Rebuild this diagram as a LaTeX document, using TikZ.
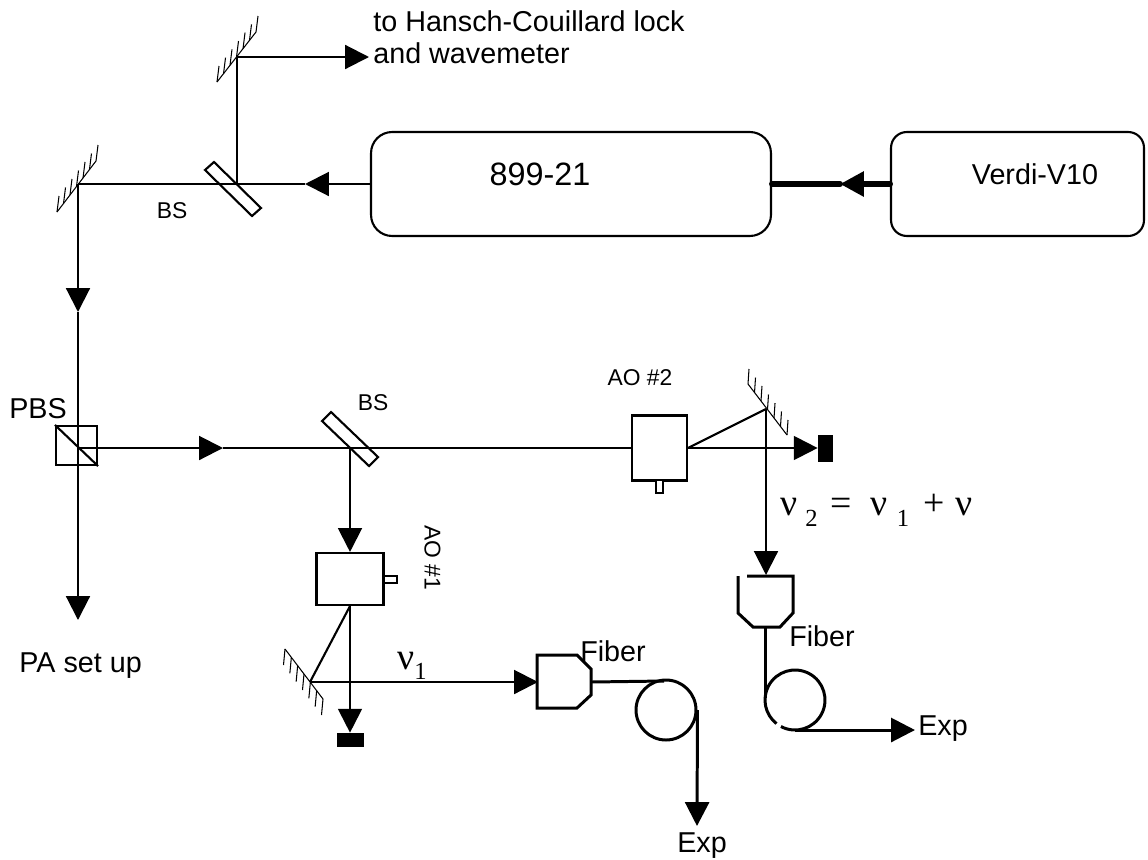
\documentclass[tikz,border=0pt]{standalone}
\usepackage{fontspec}
\setmainfont{Liberation Sans}
\newfontfamily\greekfont{Liberation Serif}
\newcommand{\subnum}[2]{\raisebox{#1}{\fontsize{14}{16}\selectfont #2}}
\usetikzlibrary{arrows.meta,calc}
\tikzset{
    ray/.style={line width=1.2pt},
    tip/.style={-{Triangle[length=13.6pt,width=13.6pt]}},
    beam/.style={ray,tip},
    fibre/.style={line width=1.7pt},
    pump/.style={line width=3.4pt,line cap=round},
    part/.style={draw,line width=1.2pt,inner sep=0pt,fill=white},
    laserbox/.style={draw,line width=1.2pt,inner sep=0pt,minimum height=2.08cm},
    dump/.style={fill=black,inner sep=0pt},
    lab/.style={font=\fontsize{16.35}{19}\selectfont,inner sep=0pt},
    smalllab/.style={font=\fontsize{13}{15}\selectfont,inner sep=0pt},
    nulab/.style={font=\fontsize{21.5}{25}\selectfont\greekfont,inner sep=0pt,anchor=base west},
}
\begin{document}
\begin{tikzpicture}[x=0.02cm,y=-0.02cm]
    \useasboundingbox (0,0) rectangle (1148,859);

    % Mirrors
    \coordinate (M1a) at (217,82);
    \coordinate (M1b) at (256,32);
    \coordinate (M2a) at (57,212);
    \coordinate (M2b) at (96,161);
    \coordinate (M3a) at (748,384);
    \coordinate (M3b) at (787,435);
    \coordinate (M4a) at (285,649);
    \coordinate (M4b) at (323,699);
    \foreach \a/\b/\dx/\dy in {M1a/M1b/2/-16,M2a/M2b/2/-16,M3a/M3b/1/-15,M4a/M4b/-1.5/16} {
            \draw[line width=0.6pt] (\a) -- (\b);
            \foreach \t in {0,0.167,0.333,0.5,0.667,0.833,1} {
                    \draw[line width=0.6pt] ($(\a)!\t!(\b)$) -- ++(\dx,\dy);
                }
        }
    \coordinate (M1) at (237,57);
    \coordinate (M2) at (78,184);
    \coordinate (M3) at (766,409);
    \coordinate (M4) at (310,682);

    % Lasers
    \node[laserbox,rounded corners=12pt,minimum width=8cm] (ring) at (571,184) {};
    \node[laserbox,rounded corners=9pt,minimum width=5.06cm] (verdi) at (1017.5,184) {};
    \node[inner sep=0pt,anchor=base,font=\fontsize{18.4}{22}\selectfont] (ringlab) at (540,185) {899-21};
    \node[lab,anchor=base] (verdilab) at (1035,184) {Verdi-V10};
    \coordinate (pumptip) at (840,184);
    \draw[pump] (ring.east) -- (pumptip);
    \draw[pump,tip] (verdi.west) -- (pumptip);

    % Upper beams
    \coordinate (BS1) at (237,184);
    \coordinate (T1) at (305,184);
    \coordinate (T2) at (369,57);
    \coordinate (T3) at (78,312);
    \draw[beam] (ring.west) -- (T1);
    \draw[ray] (T1) -- (M2);
    \draw[ray] (BS1) -- (M1);
    \draw[beam] (M1) -- (T2);
    \draw[beam] (M2) -- (T3);
    \draw[ray] (205,170) -- (214,162) -- (261,208) -- (252,216) -- cycle;
    \node[smalllab] (bslab) at (172,211) {BS};
    \node[lab,anchor=base west] (lockA) at (373,31) {to Hansch-Couillard lock};
    \node[lab,anchor=base west] (lockB) at (373,63) {and wavemeter};

    % PBS
    \node[draw,line width=1.2pt,inner sep=0pt,minimum width=0.82cm,minimum height=0.78cm] (pbs) at (76.5,445.5) {};
    \draw[ray] (pbs.north west) -- (pbs.south east);
    \coordinate (P) at (78,448);
    \coordinate (T4) at (78,620);
    \coordinate (T5) at (223,448);
    \draw[ray] (T3) -- (P);
    \draw[beam] (P) -- (T4);
    \draw[beam] (P) -- (T5);
    \node[lab] (pbslab) at (38,409) {PBS};
    \node[lab,anchor=base west] (palab) at (19,672) {PA set up};

    % Second beam splitter and the two AOs
    \coordinate (BS2) at (350,448);
    \node[smalllab] (bs2lab) at (373,403) {BS};
    \node[part,minimum width=1.1cm,minimum height=1.3cm] (aotwo) at (659.5,448) {};
    \node[part,minimum width=0.14cm,minimum height=0.26cm] (aotwotab) at (659.5,486.5) {};
    \node[part,minimum width=1.34cm,minimum height=1.04cm] (aoone) at (350,579) {};
    \node[part,minimum width=0.26cm,minimum height=0.14cm] (aoonetab) at (390.5,579.5) {};
    \node[smalllab] (aotwolab) at (640,378) {AO \#2};
    \node[smalllab,rotate=-90] (aoonelab) at (432.5,557.5) {AO \#1};
    \draw[ray] (T5) -- (aotwo.west);
    \draw[beam] (BS2) -- (aoone.north);
    \draw[ray] (322,421) -- (331,412) -- (378,457) -- (369,466) -- cycle;

    % First arm
    \node[dump,minimum width=0.54cm,minimum height=0.28cm] (dumpone) at (350,740) {};
    \draw[beam] (aoone.south) -- (dumpone.north);
    \draw[ray] (aoone.south) -- (M4);
    \coordinate (T6) at (538,682);
    \draw[beam] (M4) -- (T6);
    \node[nulab] (nuone) at (397,669) {ν\subnum{-5.7pt}{1}};
    \draw[fibre,fill=white] (537,655) -- (577,655) -- (591,669) -- (591,695) -- (577,708) -- (537,708) -- cycle;
    \coordinate (C1) at (591,682);
    \node[draw,circle,fibre,minimum size=1.2cm,inner sep=0pt] (coilone) at (666,710) {};
    \coordinate (C1top) at (664,681);
    \coordinate (T7) at (697,826);
    \draw[fibre] (C1) -- (C1top);
    \draw[fibre,tip] (coilone.east) -- (T7);
    \node[lab,anchor=base] (fiberone) at (613,661) {Fiber};
    \node[lab,anchor=base] (expone) at (702,852) {Exp};

    % Second arm
    \node[dump,minimum width=0.3cm,minimum height=0.54cm] (dumptwo) at (825.5,448) {};
    \draw[beam] (aotwo.east) -- (dumptwo.west);
    \draw[ray] (aotwo.east) -- (M3);
    \coordinate (T8) at (766,575);
    \draw[beam] (M3) -- (T8);
    \node[nulab] (nutwo) at (780,515) {ν\hspace{4.5pt}\subnum{-6.8pt}{2}\hspace{7.4pt}=\hspace{10.8pt}ν\hspace{5.1pt}\subnum{-6.8pt}{1}\hspace{8pt}+\hspace{6.2pt}ν};
    \draw[fibre] (747,576) -- (793,576) -- (793,613) -- (780,627) -- (753,627) -- (738,613) -- (738,576);
    \coordinate (C2) at (765,627);
    \coordinate (C2side) at (765,698);
    \coordinate (coiltwo) at (795,700);
    \coordinate (C2low) at (795,730);
    \coordinate (T9) at (915,730);
    \draw[fibre] (C2) -- (C2side);
    \draw[fibre] ($(coiltwo)+(118:30)$) arc[start angle=118,delta angle=-350,radius=30];
    \draw[fibre,tip] (C2low) -- (T9);
    \node[lab,anchor=base] (fibertwo) at (822,646) {Fiber};
    \node[lab,anchor=base] (exptwo) at (943,735) {Exp};
\end{tikzpicture}
\end{document}
